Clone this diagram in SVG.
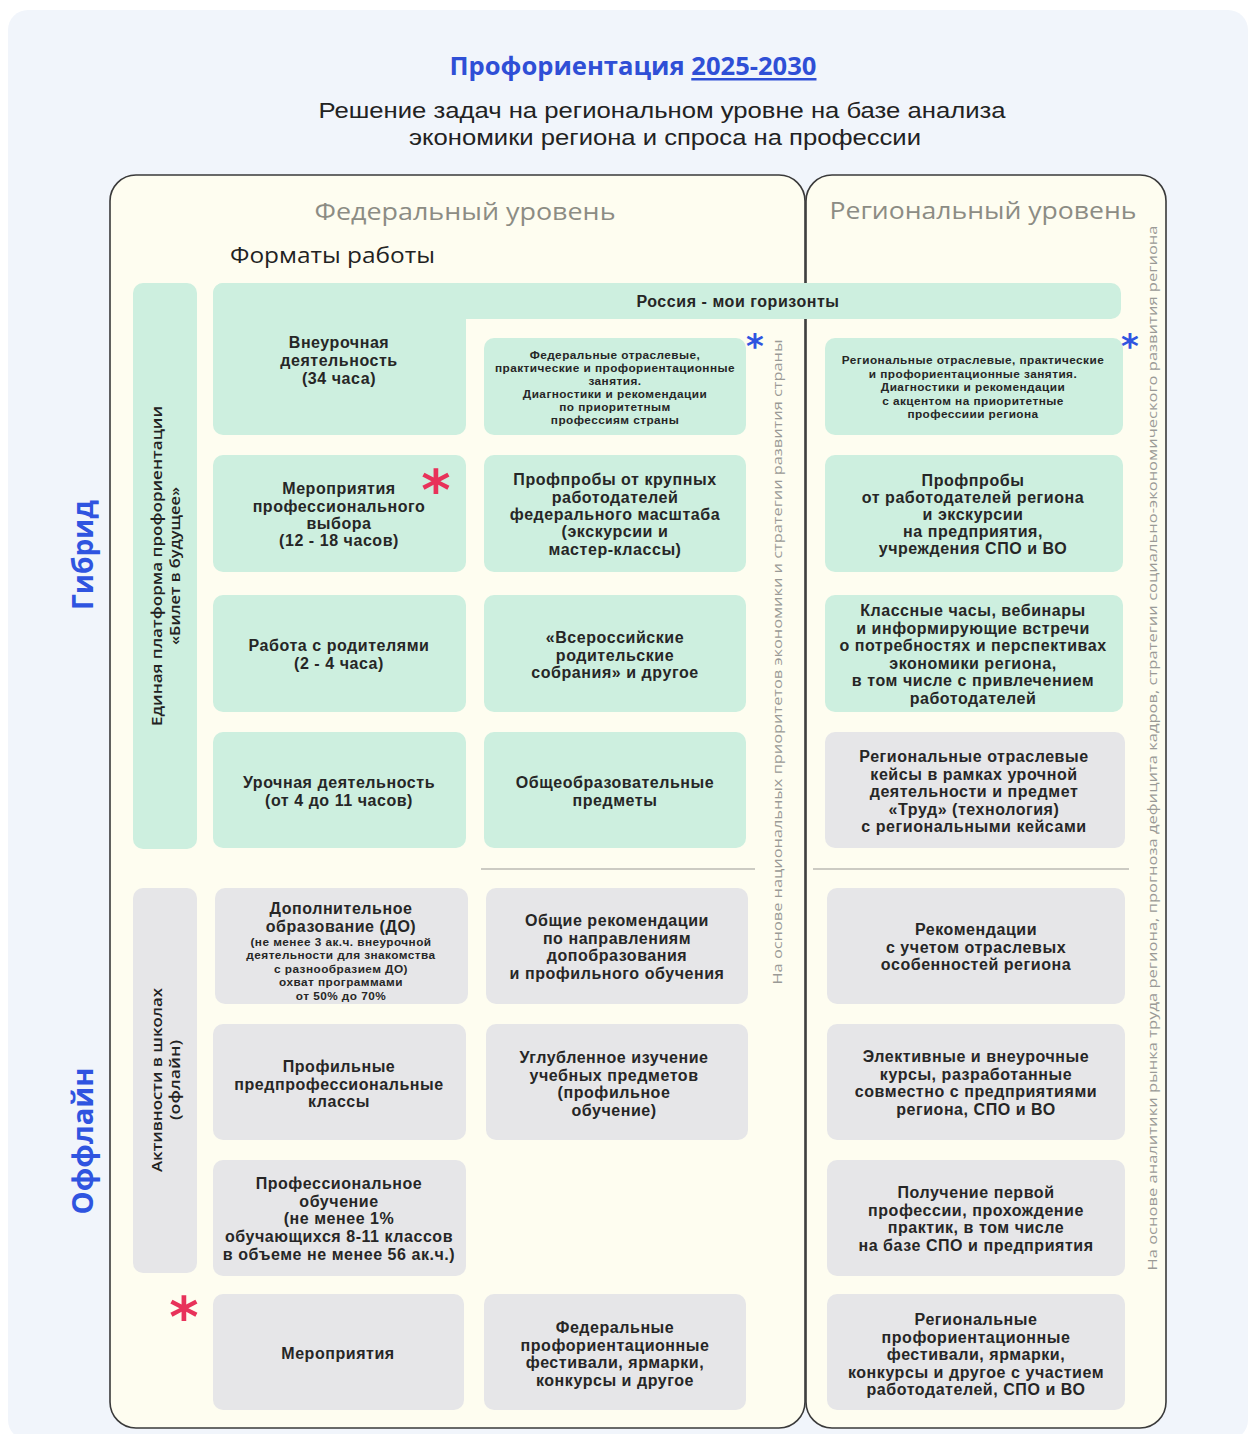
<svg xmlns="http://www.w3.org/2000/svg" width="1248" height="1434" viewBox="0 0 1248 1434">
<style>
  text { font-family: "Open Sans", "Noto Sans", "DejaVu Sans", sans-serif; }
  .t { font-family: "Liberation Sans", Arial, sans-serif; font-size: 16px; font-weight: 700; fill: #262626; text-anchor: middle; dominant-baseline: central; letter-spacing: 0.55px; }
  .s { font-family: "Liberation Sans", Arial, sans-serif; font-size: 11.8px; font-weight: 700; fill: #262626; text-anchor: middle; dominant-baseline: central; letter-spacing: 0.45px; }
  .sub { font-family: "Liberation Sans", Arial, sans-serif; font-size: 22px; fill: #222; text-anchor: middle; dominant-baseline: central; }
  .g { fill: #cdefdf; }
  .gr { fill: #e6e6e8; }
  .panel { fill: #fefdf0; stroke: #3a3a3a; stroke-width: 1.6; }
  .lvl { font-size: 24px; fill: #8c8c84; text-anchor: middle; dominant-baseline: central; }
  .vt { font-size: 13.5px; fill: #9a9a96; text-anchor: middle; dominant-baseline: central; }
  .vl { font-size: 14px; font-weight: 600; fill: #222; text-anchor: middle; dominant-baseline: central; }
  .side { font-size: 28px; font-weight: 700; fill: #2f54e0; text-anchor: middle; dominant-baseline: central; }
  .sep { stroke: #9a9a96; stroke-width: 1.2; }
  .red { fill: #e8325a; font-family: "DejaVu Sans", sans-serif; font-weight: 700; text-anchor: middle; }
  .blue { fill: #2f54e0; font-family: "DejaVu Sans", sans-serif; font-weight: 700; text-anchor: middle; }
</style>
<rect x="0" y="0" width="1248" height="1434" fill="#ffffff"/>
<rect x="8" y="10" width="1240" height="1430" rx="20" fill="#f1f5fb"/>

<g id="title">
  <text x="633" y="65" font-size="25" font-weight="700" fill="#2f4fd6" text-anchor="middle" dominant-baseline="central" textLength="367" lengthAdjust="spacingAndGlyphs">Профориентация <tspan text-decoration="underline">2025-2030</tspan></text>
  <text class="sub" x="662" y="110" textLength="687" lengthAdjust="spacingAndGlyphs">Решение задач на региональном уровне на базе анализа</text>
  <text class="sub" x="665" y="137" textLength="512" lengthAdjust="spacingAndGlyphs">экономики региона и спроса на профессии</text>
</g>

<g id="federal-panel">
  <rect class="panel" x="110" y="175" width="695" height="1253" rx="26"/>
  <text class="lvl" x="465" y="210" textLength="301" lengthAdjust="spacingAndGlyphs">Федеральный уровень</text>
  <text x="230" y="255" font-size="21" fill="#222" dominant-baseline="central" textLength="205" lengthAdjust="spacingAndGlyphs">Форматы работы</text>
</g>
<g id="regional-panel">
  <rect class="panel" x="806" y="175" width="360" height="1253" rx="26"/>
  <text class="lvl" x="983" y="209" textLength="307" lengthAdjust="spacingAndGlyphs">Региональный уровень</text>
</g>

<g id="side-labels">
  <text class="side" transform="translate(82,555) rotate(-90)">Гибрид</text>
  <text class="side" transform="translate(82,1141) rotate(-90)" textLength="147" lengthAdjust="spacingAndGlyphs">Оффлайн</text>
</g>

<g id="bilet">
  <rect class="g" x="133" y="283" width="64" height="566" rx="10"/>
  <text class="vl" transform="translate(165,566) rotate(-90)"><tspan x="0" y="-9" textLength="320" lengthAdjust="spacingAndGlyphs">Единая платформа профориентации</tspan><tspan x="0" y="9" textLength="158" lengthAdjust="spacingAndGlyphs">«Билет в будущее»</tspan></text>
</g>
<g id="aktivnosti">
  <rect class="gr" x="133" y="888" width="64" height="385" rx="10"/>
  <text class="vl" transform="translate(165,1080) rotate(-90)"><tspan x="0" y="-9" textLength="184" lengthAdjust="spacingAndGlyphs">Активности в школах</tspan><tspan x="0" y="9" textLength="80" lengthAdjust="spacingAndGlyphs">(офлайн)</tspan></text>
</g>

<g id="rossiya">
  <rect class="g" x="213" y="283" width="908" height="36" rx="10"/>
  <rect class="g" x="213" y="283" width="253" height="152" rx="10"/>
  <text class="t" x="738" y="301">Россия - мои горизонты</text>
  <text class="t"><tspan x="339" y="342">Внеурочная</tspan><tspan x="339" y="360">деятельность</tspan><tspan x="339" y="378">(34 часа)</tspan></text>
</g>

<g id="f-row1">
  <rect class="g" x="484" y="338" width="262" height="97" rx="10"/>
  <text class="s"><tspan x="615" y="355">Федеральные отраслевые,</tspan><tspan x="615" y="368">практические и профориентационные</tspan><tspan x="615" y="381">занятия.</tspan><tspan x="615" y="394">Диагностики и рекомендации</tspan><tspan x="615" y="407">по приоритетным</tspan><tspan x="615" y="420">профессиям страны</tspan></text>
  <text class="blue" x="755" y="358" font-size="34">*</text>
</g>
<g id="r-row1">
  <rect class="g" x="825" y="338" width="298" height="97" rx="10"/>
  <text class="s"><tspan x="973" y="360">Региональные отраслевые, практические</tspan><tspan x="973" y="374">и профориентационные занятия.</tspan><tspan x="973" y="387">Диагностики и рекомендации</tspan><tspan x="973" y="401">с акцентом на приоритетные</tspan><tspan x="973" y="414">профессиии региона</tspan></text>
  <text class="blue" x="1130" y="358" font-size="34">*</text>
</g>

<g id="l-row2">
  <rect class="g" x="213" y="455" width="253" height="117" rx="10"/>
  <text class="t"><tspan x="339" y="488">Мероприятия</tspan><tspan x="339" y="506">профессионального</tspan><tspan x="339" y="523">выбора</tspan><tspan x="339" y="540">(12 - 18 часов)</tspan></text>
  <text class="red" x="436" y="509" font-size="56">*</text>
</g>
<g id="f-row2">
  <rect class="g" x="484" y="455" width="262" height="117" rx="10"/>
  <text class="t"><tspan x="615" y="479">Профпробы от крупных</tspan><tspan x="615" y="497">работодателей</tspan><tspan x="615" y="514">федерального масштаба</tspan><tspan x="615" y="531">(экскурсии и</tspan><tspan x="615" y="549">мастер-классы)</tspan></text>
</g>
<g id="r-row2">
  <rect class="g" x="825" y="455" width="298" height="117" rx="10"/>
  <text class="t"><tspan x="973" y="480">Профпробы</tspan><tspan x="973" y="497">от работодателей региона</tspan><tspan x="973" y="514">и экскурсии</tspan><tspan x="973" y="531">на предприятия,</tspan><tspan x="973" y="548">учреждения СПО и ВО</tspan></text>
</g>

<g id="l-row3">
  <rect class="g" x="213" y="595" width="253" height="117" rx="10"/>
  <text class="t"><tspan x="339" y="645">Работа с родителями</tspan><tspan x="339" y="663">(2 - 4 часа)</tspan></text>
</g>
<g id="f-row3">
  <rect class="g" x="484" y="595" width="262" height="117" rx="10"/>
  <text class="t"><tspan x="615" y="637">«Всероссийские</tspan><tspan x="615" y="654.5">родительские</tspan><tspan x="615" y="672">собрания» и другое</tspan></text>
</g>
<g id="r-row3">
  <rect class="g" x="825" y="595" width="298" height="117" rx="10"/>
  <text class="t"><tspan x="973" y="610">Классные часы, вебинары</tspan><tspan x="973" y="627.6">и информирующие встречи</tspan><tspan x="973" y="645.2">о потребностях и перспективах</tspan><tspan x="973" y="662.8">экономики региона,</tspan><tspan x="973" y="680.4">в том числе с привлечением</tspan><tspan x="973" y="698">работодателей</tspan></text>
</g>

<g id="l-row4">
  <rect class="g" x="213" y="732" width="253" height="116" rx="10"/>
  <text class="t"><tspan x="339" y="782">Урочная деятельность</tspan><tspan x="339" y="800">(от 4 до 11 часов)</tspan></text>
</g>
<g id="f-row4">
  <rect class="g" x="484" y="732" width="262" height="116" rx="10"/>
  <text class="t"><tspan x="615" y="782">Общеобразовательные</tspan><tspan x="615" y="800">предметы</tspan></text>
</g>
<g id="r-row4">
  <rect class="gr" x="825" y="732" width="300" height="116" rx="10"/>
  <text class="t"><tspan x="974" y="756">Региональные отраслевые</tspan><tspan x="974" y="773.5">кейсы в рамках урочной</tspan><tspan x="974" y="791">деятельности и предмет</tspan><tspan x="974" y="808.5">«Труд» (технология)</tspan><tspan x="974" y="826">с региональными кейсами</tspan></text>
</g>

<g id="separators">
  <line class="sep" x1="481" y1="869" x2="755" y2="869"/>
  <line class="sep" x1="813" y1="869" x2="1129" y2="869"/>
</g>

<g id="l-row5">
  <rect class="gr" x="215" y="888" width="253" height="116" rx="10"/>
  <text class="t"><tspan x="341" y="908">Дополнительное</tspan><tspan x="341" y="926">образование (ДО)</tspan></text>
  <text class="s"><tspan x="341" y="941.5">(не менее 3 ак.ч. внеурочной</tspan><tspan x="341" y="955">деятельности для знакомства</tspan><tspan x="341" y="968.5">с разнообразием ДО)</tspan><tspan x="341" y="982">охват программами</tspan><tspan x="341" y="995.5">от 50% до 70%</tspan></text>
</g>
<g id="f-row5">
  <rect class="gr" x="486" y="888" width="262" height="116" rx="10"/>
  <text class="t"><tspan x="617" y="920">Общие рекомендации</tspan><tspan x="617" y="937.7">по направлениям</tspan><tspan x="617" y="955.4">допобразования</tspan><tspan x="617" y="973">и профильного обучения</tspan></text>
</g>
<g id="r-row5">
  <rect class="gr" x="827" y="888" width="298" height="116" rx="10"/>
  <text class="t"><tspan x="976" y="929">Рекомендации</tspan><tspan x="976" y="946.7">с учетом отраслевых</tspan><tspan x="976" y="964.4">особенностей региона</tspan></text>
</g>

<g id="l-row6">
  <rect class="gr" x="213" y="1024" width="253" height="116" rx="10"/>
  <text class="t"><tspan x="339" y="1066">Профильные</tspan><tspan x="339" y="1083.7">предпрофессиональные</tspan><tspan x="339" y="1101.4">классы</tspan></text>
</g>
<g id="f-row6">
  <rect class="gr" x="486" y="1024" width="262" height="116" rx="10"/>
  <text class="t"><tspan x="614" y="1057">Углубленное изучение</tspan><tspan x="614" y="1074.7">учебных предметов</tspan><tspan x="614" y="1092.4">(профильное</tspan><tspan x="614" y="1110">обучение)</tspan></text>
</g>
<g id="r-row6">
  <rect class="gr" x="827" y="1024" width="298" height="116" rx="10"/>
  <text class="t"><tspan x="976" y="1056">Элективные и внеурочные</tspan><tspan x="976" y="1073.7">курсы, разработанные</tspan><tspan x="976" y="1091.4">совместно с предприятиями</tspan><tspan x="976" y="1109">региона, СПО и ВО</tspan></text>
</g>

<g id="l-row7">
  <rect class="gr" x="213" y="1160" width="253" height="116" rx="10"/>
  <text class="t"><tspan x="339" y="1183">Профессиональное</tspan><tspan x="339" y="1200.7">обучение</tspan><tspan x="339" y="1218.4">(не менее 1%</tspan><tspan x="339" y="1236.1">обучающихся 8-11 классов</tspan><tspan x="339" y="1253.8">в объеме не менее 56 ак.ч.)</tspan></text>
</g>
<g id="r-row7">
  <rect class="gr" x="827" y="1160" width="298" height="116" rx="10"/>
  <text class="t"><tspan x="976" y="1192">Получение первой</tspan><tspan x="976" y="1209.7">профессии,  прохождение</tspan><tspan x="976" y="1227.4">практик, в том числе</tspan><tspan x="976" y="1245.1">на базе СПО и предприятия</tspan></text>
</g>

<g id="l-row8">
  <rect class="gr" x="213" y="1294" width="251" height="116" rx="10"/>
  <text class="t" x="338" y="1353">Мероприятия</text>
  <text class="red" x="184" y="1336" font-size="56">*</text>
</g>
<g id="f-row8">
  <rect class="gr" x="484" y="1294" width="262" height="116" rx="10"/>
  <text class="t"><tspan x="615" y="1327">Федеральные</tspan><tspan x="615" y="1344.7">профориентационные</tspan><tspan x="615" y="1362.4">фестивали, ярмарки,</tspan><tspan x="615" y="1380.1">конкурсы и другое</tspan></text>
</g>
<g id="r-row8">
  <rect class="gr" x="827" y="1294" width="298" height="116" rx="10"/>
  <text class="t"><tspan x="976" y="1319">Региональные</tspan><tspan x="976" y="1336.6">профориентационные</tspan><tspan x="976" y="1354.2">фестивали, ярмарки,</tspan><tspan x="976" y="1371.8">конкурсы и другое с участием</tspan><tspan x="976" y="1389.4">работодателей, СПО и ВО</tspan></text>
</g>

<g id="vertical-notes">
  <text class="vt" transform="translate(777,662) rotate(-90)" textLength="645" lengthAdjust="spacingAndGlyphs">На основе  национальных приоритетов экономики и стратегии развития страны</text>
  <text class="vt" font-size="13" transform="translate(1152,748) rotate(-90)" textLength="1045" lengthAdjust="spacingAndGlyphs">На основе аналитики рынка труда региона, прогноза дефицита кадров, стратегии социально-экономического развития региона</text>
</g>
</svg>
